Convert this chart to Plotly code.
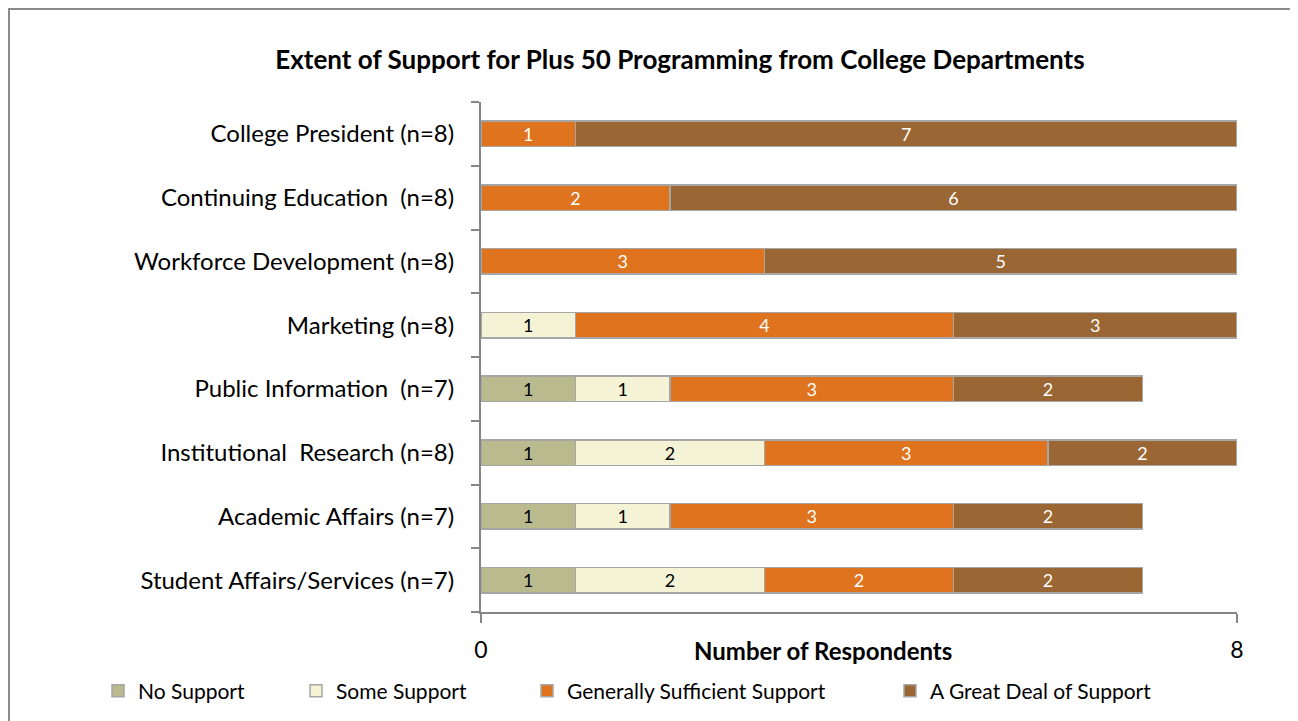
import plotly.graph_objects as go

categories = [
    "Student Affairs/Services (n=7)",
    "Academic Affairs (n=7)",
    "Institutional  Research (n=8)",
    "Public Information  (n=7)",
    "Marketing (n=8)",
    "Workforce Development (n=8)",
    "Continuing Education  (n=8)",
    "College President (n=8)",
]
no_support = [1, 1, 1, 1, 0, 0, 0, 0]
some_support = [2, 1, 2, 1, 1, 0, 0, 0]
generally_sufficient = [2, 3, 3, 3, 4, 3, 2, 1]
great_deal = [2, 2, 2, 2, 3, 5, 6, 7]

series_names = ["No Support", "Some Support", "Generally Sufficient Support", "A Great Deal of Support"]
series_values = [no_support, some_support, generally_sufficient, great_deal]
series_colors = ["#B9BB8F", "#F5F3D6", "#E0731E", "#9A6633"]
text_colors = ["#000000", "#000000", "#FFFFFF", "#FFFFFF"]

FONT = "Lato, Carlito, Calibri, sans-serif"

# page body has an 8px margin: work in figure coordinates = reference - 8
OFF = 8
W, H = 1298 - OFF, 721 - OFF
X0, X1 = 481 - OFF, 1237 - OFF   # plot left/right
Y0, Y1 = 102 - OFF, 612 - OFF    # plot top/bottom
L, R, T, B = X0, W - X1, Y0, H - Y1
pw, ph = X1 - X0, Y1 - Y0

def px(x):
    return (x - OFF - L) / pw

def py(y):
    return (Y1 - (y - OFF)) / ph

legend_ids = ["legend", "legend2", "legend3", "legend4"]
legend_sq_centers = [118, 316, 547, 910]   # reference pixel x of legend squares

fig = go.Figure()
for i, (name, vals) in enumerate(zip(series_names, series_values)):
    fig.add_trace(go.Bar(
        name=name,
        y=categories,
        x=vals,
        orientation="h",
        legend=legend_ids[i],
        marker=dict(color=series_colors[i], line=dict(color="#A6A6A6", width=1.5)),
        text=[str(v) if v else "" for v in vals],
        textposition="inside",
        insidetextanchor="middle",
        textangle=0,
        textfont=dict(color=text_colors[i], size=18, family=FONT),
        constraintext="none",
        hoverinfo="x+y+name",
    ))

legend_layout = {}
for i, lid in enumerate(legend_ids):
    legend_layout[lid] = dict(
        orientation="h",
        x=px(legend_sq_centers[i] - 20), xanchor="left",
        y=py(691), yanchor="middle",
        font=dict(size=21, family=FONT, color="#000000"),
        bgcolor="rgba(0,0,0,0)",
        borderwidth=0,
    )

fig.update_layout(
    width=W, height=H,
    barmode="stack",
    bargap=0.6,
    plot_bgcolor="white",
    paper_bgcolor="white",
    margin=dict(l=L, r=R, t=T, b=B, autoexpand=False),
    font=dict(family=FONT, color="#000000"),
    title=dict(
        text="<b>Extent of Support for Plus 50 Programming from College Departments</b>",
        x=(680 - OFF) / W, xanchor="center", xref="container",
        y=1 - (60 - OFF) / H, yanchor="middle",
        font=dict(size=26, family=FONT, color="#000000"),
    ),
    showlegend=True,
    xaxis=dict(
        range=[0, 8],
        tickvals=[0, 8],
        ticktext=["0", "8"],
        ticks="outside",
        ticklen=9,
        tickcolor="#868686",
        tickwidth=1.5,
        showline=True,
        linecolor="#868686",
        linewidth=2,
        showgrid=False,
        zeroline=False,
        tickfont=dict(size=23, family=FONT, color="#000000"),
        ticklabelstandoff=7,
        fixedrange=True,
    ),
    yaxis=dict(
        ticks="outside",
        tickson="boundaries",
        ticklen=8,
        tickcolor="#868686",
        tickwidth=1.5,
        showline=True,
        linecolor="#868686",
        linewidth=2,
        showgrid=False,
        tickfont=dict(size=24, family=FONT, color="#000000"),
        ticklabelstandoff=20,
        categoryorder="array",
        categoryarray=categories,
        fixedrange=True,
    ),
    annotations=[dict(
        text="<b>Number of Respondents</b>",
        xref="paper", yref="paper",
        x=px(823), y=py(650), xanchor="center", yanchor="middle",
        showarrow=False,
        font=dict(size=24, family=FONT, color="#000000"),
    )],
    shapes=[dict(
        type="rect", xref="paper", yref="paper",
        x0=px(OFF + 1), x1=px(1340), y0=py(780), y1=py(OFF + 1),
        line=dict(color="#8C8C8C", width=2),
        fillcolor="rgba(0,0,0,0)", layer="below",
    )],
    **legend_layout,
)

fig.write_html("out.html")
